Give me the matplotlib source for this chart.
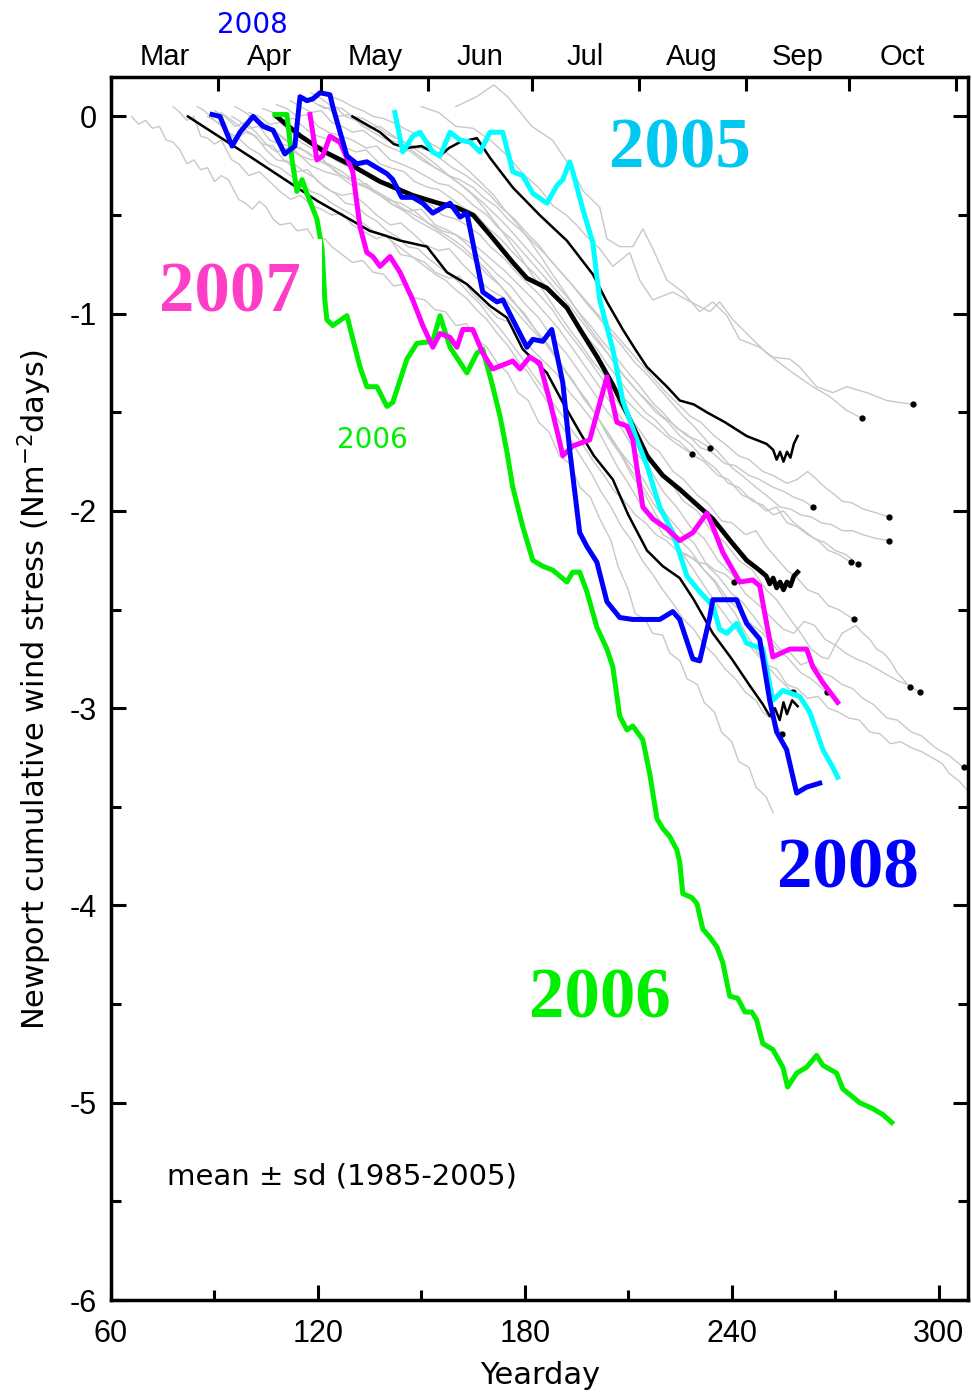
import matplotlib.pyplot as plt
from matplotlib.patches import Rectangle
from matplotlib.ticker import MultipleLocator, FixedLocator, NullFormatter

# ---- data (yearday, cumulative stress) ----
y2008_day = [89.3, 91.6, 95.1, 97.4, 101.2, 104.1, 107.0, 108.4, 110.4, 113.3, 114.8, 116.8, 118.6, 120.6,
             123.5, 124.3, 128.4, 131.3, 134.2, 137.1, 140.0, 141.7, 144.3, 147.5, 150.4, 153.3, 158.3,
             161.2, 163.2, 167.8, 171.9, 173.6, 176.5, 180.6, 182.3, 185.2, 187.8, 191.0, 193.0, 195.9,
             198.0, 200.9, 203.8, 207.5, 211.3, 219.1, 222.9, 224.9, 228.7, 230.7, 233.6, 234.5, 238.6,
             241.4, 244.3, 248.1, 251.0, 253.0, 255.9, 258.8, 261.7, 265.5]
y2008_val = [0.01, 0.00, -0.15, -0.08, 0.00, -0.05, -0.07, -0.12, -0.19, -0.15, 0.10, 0.08, 0.09, 0.12,
             0.11, 0.05, -0.20, -0.24, -0.23, -0.26, -0.29, -0.32, -0.41, -0.41, -0.44, -0.49, -0.44,
             -0.51, -0.49, -0.89, -0.94, -0.93, -1.03, -1.17, -1.13, -1.14, -1.08, -1.35, -1.69, -2.11,
             -2.18, -2.26, -2.46, -2.54, -2.55, -2.55, -2.51, -2.55, -2.75, -2.76, -2.54, -2.45, -2.45,
             -2.45, -2.57, -2.65, -2.96, -3.12, -3.21, -3.43, -3.40, -3.38]

y2005_day = [142.3, 144.6, 147.5, 149.6, 153.3, 155.4, 158.3, 161.2, 164.1, 167.0, 169.9, 173.6, 176.5,
             179.4, 182.3, 186.4, 189.3, 191.0, 193.0, 193.9, 196.8, 199.7, 201.7, 205.5, 208.4, 212.5,
             215.4, 219.1, 222.9, 227.0, 230.7, 234.5, 236.5, 238.6, 241.4, 244.3, 249.0, 251.9, 254.8,
             259.7, 262.6, 266.4, 269.3, 270.7]
y2005_val = [0.02, -0.18, -0.10, -0.08, -0.18, -0.20, -0.08, -0.12, -0.13, -0.18, -0.08, -0.08, -0.28,
             -0.30, -0.39, -0.44, -0.35, -0.32, -0.23, -0.28, -0.47, -0.64, -0.93, -1.18, -1.44, -1.64,
             -1.77, -1.98, -2.11, -2.33, -2.41, -2.48, -2.60, -2.62, -2.57, -2.67, -2.70, -2.96, -2.91,
             -2.94, -3.02, -3.21, -3.30, -3.35]

y2007_day = [117.7, 119.7, 121.4, 123.5, 126.4, 130.1, 132.2, 134.2, 135.9, 138.0, 140.9, 143.8, 147.5,
             150.4, 153.3, 155.4, 158.3, 160.3, 162.0, 164.9, 167.8, 170.7, 176.5, 178.6, 181.4, 184.3,
             187.2, 190.1, 191.0, 193.9, 198.8, 203.8, 206.7, 209.6, 211.3, 214.2, 217.1, 221.2, 224.9,
             228.7, 232.8, 234.5, 237.4, 242.3, 246.1, 248.1, 251.9, 256.8, 261.7, 263.5, 266.4, 270.7]
y2007_val = [0.01, -0.22, -0.20, -0.10, -0.13, -0.28, -0.56, -0.69, -0.71, -0.76, -0.71, -0.79, -0.93,
             -1.06, -1.17, -1.10, -1.12, -1.17, -1.08, -1.08, -1.20, -1.28, -1.24, -1.28, -1.22, -1.25,
             -1.44, -1.65, -1.72, -1.67, -1.64, -1.32, -1.55, -1.57, -1.64, -1.98, -2.04, -2.09, -2.15,
             -2.11, -2.01, -2.08, -2.21, -2.36, -2.35, -2.38, -2.74, -2.70, -2.70, -2.79, -2.87, -2.97]

y2006_day = [107.5, 111.0, 112.5, 113.9, 115.4, 116.8, 119.7, 121.2, 122.0, 122.6, 124.3, 128.4, 132.2,
             134.2, 137.1, 140.0, 141.7, 145.8, 148.7, 153.3, 155.4, 158.3, 163.2, 166.1, 167.8, 170.7,
             172.8, 174.8, 176.5, 179.4, 182.3, 185.2, 188.1, 192.2, 193.9, 195.9, 198.0, 200.9, 203.8,
             205.5, 207.5, 209.6, 211.3, 214.2, 216.2, 218.3, 220.0, 222.0, 224.1, 224.9, 225.8, 228.4,
             229.9, 231.6, 233.6, 235.7, 237.4, 239.4, 241.7, 243.8, 245.8, 247.2, 249.0, 251.9, 254.8,
             256.2, 258.8, 261.7, 264.6, 266.4, 270.4, 272.2, 277.1, 280.9, 283.8, 286.4]
y2006_val = [0.01, 0.01, -0.22, -0.38, -0.32, -0.39, -0.52, -0.67, -0.93, -1.03, -1.06, -1.01, -1.27,
             -1.37, -1.37, -1.47, -1.45, -1.23, -1.15, -1.14, -1.01, -1.17, -1.30, -1.20, -1.18, -1.37,
             -1.52, -1.70, -1.88, -2.08, -2.25, -2.28, -2.30, -2.36, -2.31, -2.31, -2.41, -2.59, -2.70,
             -2.79, -3.04, -3.11, -3.09, -3.16, -3.33, -3.56, -3.61, -3.65, -3.72, -3.78, -3.94, -3.96,
             -3.99, -4.12, -4.16, -4.21, -4.29, -4.46, -4.47, -4.54, -4.54, -4.58, -4.70, -4.73, -4.82,
             -4.92, -4.85, -4.82, -4.76, -4.81, -4.85, -4.93, -5.00, -5.03, -5.06, -5.10]

# mean and mean +/- sd, 1985-2005
mean_day = [108, 115, 122, 130, 138, 147.5, 155, 160, 165, 169.9, 176.5, 180.6, 186.4, 192.2, 196, 201,
            205.5, 210, 215.4, 220, 224.9, 230, 234.5, 240, 244.3, 248, 250, 251, 252, 253, 254, 255,
            256, 257, 258, 259.1]
mean_val = [0.0, -0.10, -0.18, -0.25, -0.33, -0.40, -0.44, -0.46, -0.50, -0.60, -0.74, -0.82, -0.87,
            -0.97, -1.08, -1.22, -1.36, -1.52, -1.72, -1.82, -1.89, -1.97, -2.04, -2.16, -2.25, -2.30,
            -2.33, -2.37, -2.34, -2.39, -2.36, -2.40, -2.36, -2.38, -2.33, -2.31]
lo_day = [82.3, 100, 120, 130.1, 135, 138.8, 144, 151.6, 157.4, 163.2, 169.9, 174.8, 179.4, 186.4, 191,
          195.9, 200, 205.5, 210, 215.4, 220, 224.9, 229, 234.5, 240, 245, 249, 251, 252.5, 253.9, 255,
          256, 257.5, 259.1]
lo_val = [0.0, -0.20, -0.43, -0.53, -0.58, -0.60, -0.63, -0.66, -0.79, -0.85, -0.96, -1.02, -1.18, -1.30,
          -1.45, -1.60, -1.72, -1.84, -2.02, -2.20, -2.28, -2.34, -2.45, -2.62, -2.75, -2.88, -2.98, -3.04,
          -3.00, -3.06, -2.97, -3.03, -2.96, -2.99]
hi_day = [130, 134, 138, 142, 145.8, 150, 155.4, 158, 161.2, 166.1, 169.9, 176.5, 184.3, 192.2, 199.7,
          203.8, 208.4, 212, 215.4, 221.2, 224.9, 229, 232.8, 238, 244.3, 250.1, 252, 253, 254, 255,
          256, 257, 258, 259.1]
hi_val = [0.0, -0.04, -0.08, -0.14, -0.16, -0.15, -0.20, -0.16, -0.13, -0.11, -0.21, -0.36, -0.50, -0.63,
          -0.80, -0.94, -1.08, -1.18, -1.27, -1.37, -1.44, -1.46, -1.50, -1.55, -1.62, -1.66, -1.69, -1.74,
          -1.70, -1.75, -1.70, -1.73, -1.66, -1.62]

# individual years 1985-2004 (grey)
gray_runs = [
    [(66, 0.0), (68, -0.04), (70, -0.02), (72, -0.06), (74, -0.05), (76, -0.12), (78, -0.13), (80, -0.17),
     (82, -0.24), (84, -0.22), (86, -0.27), (88, -0.26), (90, -0.33), (92, -0.30), (94, -0.32), (97, -0.42),
     (99, -0.44), (101, -0.47), (103, -0.43), (105, -0.46), (107, -0.52), (109, -0.55), (112, -0.54),
     (114, -0.58), (117, -0.57), (119, -0.63), (122, -0.62), (124, -0.66), (127, -0.70), (130, -0.74),
     (133, -0.73), (136, -0.79), (139, -0.80), (142, -0.86), (145, -0.85), (148, -0.92), (151, -0.93),
     (154, -0.98), (157, -0.99), (160, -1.06), (163, -1.05), (166, -1.13), (169, -1.17), (172, -1.25),
     (175, -1.30), (178, -1.40), (181, -1.44), (184, -1.55), (187, -1.60), (190, -1.72), (193, -1.76),
     (196, -1.88), (199, -1.93), (202, -2.05), (205, -2.15), (207, -2.28), (210, -2.40), (212, -2.52),
     (215, -2.55), (217, -2.62), (220, -2.63), (222, -2.72), (225, -2.76), (227, -2.85), (230, -2.88),
     (232, -2.97), (235, -3.02), (237, -3.12), (240, -3.17), (242, -3.27), (245, -3.30), (247, -3.40),
     (250, -3.45), (252, -3.53)],
    [(78, 0.05), (80, 0.02), (82, -0.02), (84, 0.0), (86, -0.10), (88, -0.11), (90, -0.14), (92, -0.12),
     (95, -0.22), (97, -0.24), (100, -0.30), (103, -0.28), (106, -0.33), (109, -0.38), (112, -0.42),
     (115, -0.40), (118, -0.45), (121, -0.47), (124, -0.50), (127, -0.49), (130, -0.55), (133, -0.58),
     (137, -0.62), (140, -0.60), (144, -0.70), (147, -0.71), (151, -0.74), (154, -0.79), (158, -0.82),
     (161, -0.81), (165, -0.90), (168, -0.95), (172, -1.02), (175, -1.04), (179, -1.12), (182, -1.18),
     (186, -1.25), (189, -1.30), (193, -1.40), (196, -1.46), (200, -1.55), (203, -1.65), (207, -1.78),
     (210, -1.86), (214, -1.98), (217, -2.02), (220, -2.12), (223, -2.15), (226, -2.22), (229, -2.24),
     (232, -2.30), (235, -2.36), (238, -2.45), (241, -2.52), (244, -2.62), (247, -2.70), (250, -2.78),
     (253, -2.80), (256, -2.88), (259, -2.90), (262, -2.95), (265, -2.94), (268, -3.00), (271, -3.02),
     (274, -3.05), (277, -3.06), (280, -3.12), (283, -3.13), (286, -3.18), (289, -3.17), (292, -3.20),
     (295, -3.22), (298, -3.25), (301, -3.28), (303, -3.33), (306, -3.37), (309, -3.43)],
    [(85, 0.05), (87, 0.03), (90, -0.02), (93, -0.06), (96, -0.12), (99, -0.08), (102, -0.10), (105, -0.17),
     (108, -0.22), (111, -0.23), (114, -0.28), (117, -0.27), (120, -0.33), (124, -0.38), (127, -0.40),
     (130, -0.39), (134, -0.45), (137, -0.50), (141, -0.55), (144, -0.54), (148, -0.60), (151, -0.65),
     (155, -0.68), (158, -0.67), (162, -0.75), (166, -0.82), (170, -0.88), (174, -0.92), (178, -1.00),
     (182, -1.08), (186, -1.15), (190, -1.24), (194, -1.35), (198, -1.44), (202, -1.55), (206, -1.66),
     (210, -1.75), (214, -1.83), (218, -1.95), (222, -2.04), (226, -2.12), (229, -2.16), (233, -2.28),
     (236, -2.33), (240, -2.42), (243, -2.46), (247, -2.55), (250, -2.62), (254, -2.70), (257, -2.72),
     (260, -2.78), (263, -2.76), (266, -2.82), (269, -2.84), (272, -2.88), (275, -2.90), (278, -2.95),
     (281, -2.98), (285, -3.05), (288, -3.06), (292, -3.12), (295, -3.14), (299, -3.20), (303, -3.24),
     (307.2, -3.30)],
    [(90, 0.03), (93, 0.0), (96, -0.05), (99, -0.03), (102, -0.08), (105, -0.14), (108, -0.18), (111, -0.16),
     (115, -0.20), (118, -0.25), (122, -0.28), (126, -0.30), (130, -0.35), (134, -0.34), (138, -0.40),
     (142, -0.45), (146, -0.48), (150, -0.47), (154, -0.55), (158, -0.58), (162, -0.62), (166, -0.66),
     (170, -0.72), (174, -0.78), (178, -0.85), (182, -0.92), (186, -1.00), (190, -1.08), (194, -1.18),
     (198, -1.28), (202, -1.38), (206, -1.48), (210, -1.58), (214, -1.65), (218, -1.78), (222, -1.85),
     (226, -1.95), (230, -2.00), (234, -2.10), (238, -2.16), (242, -2.25), (246, -2.30), (250, -2.40),
     (253, -2.45), (257, -2.55), (260, -2.62), (263, -2.70), (266, -2.74), (268, -2.75), (270, -2.68),
     (272, -2.62), (274, -2.60), (276, -2.58), (278, -2.62), (280, -2.65), (282, -2.70), (284, -2.72),
     (286, -2.76), (288, -2.82), (291.6, -2.89)],
    [(95, 0.0), (97, -0.02), (100, -0.06), (103, -0.05), (106, -0.12), (109, -0.14), (112, -0.15),
     (115, -0.20), (118, -0.22), (121, -0.21), (125, -0.28), (128, -0.31), (132, -0.32), (136, -0.38),
     (140, -0.42), (144, -0.44), (148, -0.48), (152, -0.54), (156, -0.58), (160, -0.60), (164, -0.66),
     (168, -0.73), (172, -0.80), (176, -0.86), (180, -0.95), (184, -1.02), (188, -1.12), (192, -1.20),
     (196, -1.30), (200, -1.40), (204, -1.50), (208, -1.58), (212, -1.70), (216, -1.78), (220, -1.90),
     (224, -1.98), (228, -2.08), (232, -2.14), (236, -2.25), (240, -2.32), (244, -2.42), (248, -2.48),
     (252, -2.55), (255, -2.60), (258, -2.62), (261, -2.56), (264, -2.58), (267, -2.65), (270, -2.68),
     (273, -2.72), (276, -2.75), (279, -2.77), (282, -2.80), (285, -2.83), (288, -2.86), (291, -2.88),
     (294.5, -2.92)],
    [(100, 0.02), (103, 0.0), (106, -0.04), (109, -0.03), (112, -0.08), (115, -0.13), (118, -0.16),
     (121, -0.15), (125, -0.22), (128, -0.25), (132, -0.26), (135, -0.31), (139, -0.34), (142, -0.33),
     (146, -0.40), (149, -0.42), (153, -0.45), (156, -0.50), (160, -0.52), (163, -0.55), (167, -0.60),
     (170, -0.66), (174, -0.72), (177, -0.78), (181, -0.85), (184, -0.90), (188, -0.98), (191, -1.06),
     (195, -1.15), (198, -1.22), (202, -1.32), (205, -1.40), (209, -1.50), (212, -1.56), (216, -1.66),
     (219, -1.70), (223, -1.80), (226, -1.84), (230, -1.92), (233, -1.96), (237, -2.05), (240, -2.06),
     (244, -2.12), (247, -2.10), (250, -2.18), (253, -2.24), (256, -2.30), (259, -2.34), (262, -2.40),
     (265, -2.42), (268, -2.48), (271, -2.50), (275.4, -2.55)],
    [(104, 0.04), (107, 0.02), (110, -0.02), (113, -0.01), (117, -0.07), (120, -0.10), (124, -0.12),
     (127, -0.15), (131, -0.18), (134, -0.17), (138, -0.24), (141, -0.26), (145, -0.28), (148, -0.33),
     (152, -0.36), (155, -0.37), (159, -0.42), (162, -0.46), (166, -0.50), (169, -0.56), (173, -0.62),
     (176, -0.68), (180, -0.75), (183, -0.80), (187, -0.88), (190, -0.94), (194, -1.02), (197, -1.10),
     (201, -1.18), (204, -1.26), (208, -1.35), (211, -1.42), (215, -1.50), (218, -1.54), (222, -1.62),
     (225, -1.65), (229, -1.72), (232, -1.75), (236, -1.82), (239, -1.84), (243, -1.92), (246, -1.94),
     (250, -2.00), (253, -1.98), (256, -2.06), (259, -2.08), (262, -2.12), (265, -2.15), (268, -2.20),
     (271, -2.22), (274.5, -2.26)],
    [(108, 0.06), (111, 0.04), (114, 0.0), (117, 0.01), (120, -0.05), (123, -0.08), (127, -0.10),
     (130, -0.12), (134, -0.16), (137, -0.15), (141, -0.22), (144, -0.24), (148, -0.27), (151, -0.30),
     (155, -0.34), (158, -0.35), (162, -0.40), (165, -0.45), (169, -0.50), (172, -0.56), (176, -0.62),
     (179, -0.68), (183, -0.76), (186, -0.82), (190, -0.90), (193, -0.96), (197, -1.05), (200, -1.12),
     (204, -1.20), (207, -1.28), (211, -1.36), (214, -1.42), (218, -1.50), (221, -1.54), (225, -1.62),
     (228, -1.66), (232, -1.74), (235, -1.78), (239, -1.86), (242, -1.88), (246, -1.95), (249, -1.97),
     (252, -2.02), (255, -2.00), (258, -2.06), (261, -2.10), (264, -2.14), (267, -2.16), (270, -2.20),
     (273, -2.22), (276.5, -2.27)],
    [(112, 0.08), (115, 0.05), (118, 0.02), (121, 0.03), (124, -0.03), (127, -0.05), (130, -0.08),
     (133, -0.07), (137, -0.12), (140, -0.15), (144, -0.18), (147, -0.17), (151, -0.22), (154, -0.26),
     (158, -0.30), (161, -0.32), (165, -0.36), (168, -0.41), (172, -0.46), (175, -0.52), (179, -0.58),
     (182, -0.63), (186, -0.70), (189, -0.76), (193, -0.84), (196, -0.90), (200, -0.98), (203, -1.04),
     (207, -1.12), (210, -1.18), (214, -1.26), (217, -1.32), (221, -1.40), (224, -1.45), (228, -1.52),
     (231, -1.55), (235, -1.62), (238, -1.66), (242, -1.72), (245, -1.74), (249, -1.80), (252, -1.82),
     (256, -1.86), (259, -1.84), (262, -1.80), (264, -1.83), (267, -1.88), (270, -1.92), (272, -1.95),
     (275, -1.96), (278, -1.99), (282, -2.01), (285.5, -2.03)],
    [(116, 0.10), (119, 0.07), (122, 0.04), (125, 0.05), (128, 0.0), (131, -0.02), (135, -0.06),
     (138, -0.05), (142, -0.10), (145, -0.13), (149, -0.16), (152, -0.17), (156, -0.22), (159, -0.26),
     (163, -0.30), (166, -0.34), (170, -0.40), (173, -0.46), (177, -0.52), (180, -0.58), (184, -0.65),
     (187, -0.72), (191, -0.80), (194, -0.86), (198, -0.95), (201, -1.01), (205, -1.10), (208, -1.16),
     (212, -1.25), (215, -1.30), (219, -1.38), (222, -1.44), (226, -1.52), (229, -1.57), (233, -1.65),
     (236, -1.70), (240, -1.78), (243, -1.82), (247, -1.88), (250, -1.92), (254, -1.98), (257, -1.99),
     (260, -2.02), (263, -2.03), (266, -2.06), (269, -2.07), (272, -2.10), (275, -2.10), (278, -2.12),
     (282, -2.14), (285.5, -2.15)],
    [(120, 0.06), (123, 0.04), (126, 0.0), (129, 0.01), (133, -0.05), (136, -0.08), (140, -0.12),
     (143, -0.13), (147, -0.18), (150, -0.22), (154, -0.26), (157, -0.29), (161, -0.34), (164, -0.38),
     (168, -0.44), (171, -0.49), (175, -0.56), (178, -0.62), (182, -0.70), (185, -0.76), (189, -0.85),
     (192, -0.91), (196, -1.00), (199, -1.06), (203, -1.15), (206, -1.21), (210, -1.30), (213, -1.36),
     (217, -1.45), (220, -1.50), (224, -1.58), (227, -1.61), (231, -1.68), (234, -1.70), (238, -1.76),
     (241, -1.77), (245, -1.82), (248, -1.84), (252, -1.88), (255, -1.90), (258, -1.93), (261, -1.95),
     (263.5, -1.98)],
    [(92, 0.02), (95, -0.02), (98, -0.06), (101, -0.09), (104, -0.14), (107, -0.15), (110, -0.22),
     (113, -0.24), (116, -0.28), (119, -0.31), (122, -0.36), (125, -0.39), (128, -0.44), (131, -0.45),
     (134, -0.50), (137, -0.53), (140, -0.58), (143, -0.61), (146, -0.66), (149, -0.67), (152, -0.72),
     (155, -0.76), (158, -0.80), (161, -0.84), (164, -0.90), (167, -0.95), (170, -1.02), (173, -1.08),
     (176, -1.15), (179, -1.22), (182, -1.30), (185, -1.37), (188, -1.45), (191, -1.52), (194, -1.60),
     (197, -1.67), (200, -1.75), (203, -1.82), (206, -1.90), (209, -1.95), (212, -2.02), (215, -2.06),
     (218, -2.12), (221, -2.15), (224, -2.20), (227, -2.22), (230, -2.26), (233, -2.27), (235, -2.30),
     (238, -2.32), (240.6, -2.36)],
    [(88, 0.0), (91, -0.03), (94, -0.08), (97, -0.11), (100, -0.16), (103, -0.19), (106, -0.24),
     (109, -0.26), (112, -0.30), (115, -0.34), (118, -0.38), (121, -0.40), (124, -0.44), (127, -0.47),
     (130, -0.50), (133, -0.54), (136, -0.58), (139, -0.60), (142, -0.64), (145, -0.68), (148, -0.72),
     (151, -0.76), (154, -0.80), (157, -0.83), (160, -0.88), (163, -0.92), (166, -0.98), (169, -1.03),
     (172, -1.10), (175, -1.16), (178, -1.24), (181, -1.30), (184, -1.38), (187, -1.46), (190, -1.55),
     (193, -1.63), (196, -1.72), (199, -1.80), (202, -1.90), (205, -1.98), (208, -2.08), (211, -2.15),
     (214, -2.25), (217, -2.32), (220, -2.40), (223, -2.47), (226, -2.55), (229, -2.60), (232, -2.68),
     (235, -2.73), (238, -2.80), (241, -2.85), (244, -2.92), (247, -2.96), (249, -3.02), (252, -3.06),
     (254.5, -3.13)],
    [(96, 0.05), (99, 0.02), (102, -0.02), (105, -0.04), (108, -0.08), (111, -0.12), (114, -0.16),
     (117, -0.18), (120, -0.22), (123, -0.24), (127, -0.28), (130, -0.32), (134, -0.36), (137, -0.38),
     (141, -0.42), (144, -0.46), (148, -0.50), (151, -0.53), (155, -0.58), (158, -0.61), (162, -0.66),
     (165, -0.71), (169, -0.78), (172, -0.84), (176, -0.92), (179, -0.99), (183, -1.08), (186, -1.15),
     (190, -1.25), (193, -1.32), (197, -1.42), (200, -1.50), (204, -1.60), (207, -1.68), (211, -1.80),
     (214, -1.87), (218, -1.98), (221, -2.05), (225, -2.15), (228, -2.20), (232, -2.30), (235, -2.35),
     (239, -2.45), (242, -2.50), (246, -2.58), (249, -2.62), (253, -2.70), (256, -2.74), (260, -2.82),
     (263, -2.85), (267.5, -2.92)],
    [(118, 0.12), (121, 0.09), (124, 0.05), (127, 0.04), (130, 0.0), (133, -0.01), (137, -0.05),
     (140, -0.09), (144, -0.12), (147, -0.15), (151, -0.20), (154, -0.24), (158, -0.30), (161, -0.34),
     (165, -0.40), (168, -0.46), (172, -0.55), (175, -0.62), (179, -0.72), (182, -0.80), (186, -0.90),
     (189, -0.98), (193, -1.08), (196, -1.15), (200, -1.25), (203, -1.31), (207, -1.40), (210, -1.45),
     (214, -1.52), (217, -1.56), (221, -1.62), (224, -1.66), (228.4, -1.71)],
    [(124, 0.10), (127, 0.08), (130, 0.05), (133, 0.03), (136, 0.0), (139, -0.01), (143, -0.04),
     (146, -0.07), (150, -0.10), (153, -0.14), (157, -0.18), (160, -0.22), (164, -0.28), (167, -0.33),
     (171, -0.40), (174, -0.47), (178, -0.55), (181, -0.62), (185, -0.72), (188, -0.80), (192, -0.90),
     (195, -0.98), (199, -1.08), (202, -1.15), (206, -1.25), (209, -1.32), (213, -1.40), (216, -1.45),
     (220, -1.52), (223, -1.56), (227, -1.62), (230, -1.64), (233.6, -1.68)],
    [(100, 0.0), (103, -0.02), (106, -0.06), (109, -0.10), (112, -0.14), (115, -0.16), (118, -0.20),
     (121, -0.23), (124, -0.26), (127, -0.30), (131, -0.34), (134, -0.36), (138, -0.40), (141, -0.44),
     (145, -0.48), (148, -0.52), (152, -0.56), (155, -0.59), (159, -0.64), (162, -0.68), (166, -0.74),
     (169, -0.80), (173, -0.86), (176, -0.93), (180, -1.00), (183, -1.08), (187, -1.16), (190, -1.25),
     (194, -1.34), (197, -1.43), (201, -1.52), (204, -1.62), (208, -1.72), (211, -1.82), (215, -1.92),
     (218, -2.02), (222, -2.12), (225, -2.20), (229, -2.30), (232, -2.38), (236, -2.48), (239, -2.55),
     (243, -2.64), (246, -2.70), (250, -2.78), (253, -2.84), (257.7, -2.92)],
    [(150, 0.05), (155, 0.02), (160, -0.05), (165, -0.06), (170, -0.12), (175, -0.20), (180, -0.30),
     (184, -0.36), (188, -0.45), (192, -0.50), (195, -0.55), (198, -0.61), (201.7, -0.67), (205.5, -0.76),
     (210.4, -0.69), (213.3, -0.83), (217.1, -0.93), (222.9, -0.89), (227, -0.93), (233.6, -0.99),
     (236.5, -0.94), (240.3, -1.03), (244.3, -1.10), (250.1, -1.20), (257.7, -1.30), (263.5, -1.37),
     (268.4, -1.42), (273.3, -1.49), (277.7, -1.53)],
    [(160, 0.05), (166, 0.10), (171, 0.16), (175, 0.10), (182, -0.05), (188, -0.12), (193, -0.25),
     (197, -0.38), (201.7, -0.46), (203.8, -0.62), (207.5, -0.66), (211.3, -0.66), (214.2, -0.57),
     (217.1, -0.67), (221.2, -0.83), (225.8, -0.89), (230.7, -0.99), (234.5, -0.94), (238.6, -1.01),
     (242.3, -1.13), (248.1, -1.17), (251.9, -1.22), (256.8, -1.23), (259.7, -1.27), (264.6, -1.37),
     (269.3, -1.40), (273.3, -1.37), (279.1, -1.40), (284.9, -1.44), (292.5, -1.46)],
]

# end-of-season dots
dot_day = [292.5, 277.7, 233.6, 228.4, 263.5, 285.5, 285.5, 274.5, 276.5, 240.6, 275.4, 291.6, 294.5,
           257.7, 267.5, 307.2, 254.5]
dot_val = [-1.46, -1.53, -1.68, -1.71, -1.98, -2.03, -2.15, -2.26, -2.27, -2.36, -2.55, -2.89, -2.92,
           -2.92, -2.92, -3.30, -3.13]

month_names = ["Mar", "Apr", "May", "Jun", "Jul", "Aug", "Sep", "Oct"]
month_start = [60, 91, 121, 152, 182, 213, 244, 274, 305]

sans = ["Liberation Sans", "DejaVu Sans"]
wide = ["DejaVu Sans"]
serif = ["Liberation Serif", "DejaVu Serif"]
plt.rcParams["font.family"] = sans

fig = plt.figure(figsize=(9.72, 13.95), dpi=100)
ax = fig.add_axes([0.1142, 0.0681, 0.8817, 0.8767])

for run in gray_runs:
    ax.plot([p[0] for p in run], [p[1] for p in run], color="#c8c8c8", lw=1.0, zorder=1)
ax.plot(dot_day, dot_val, "o", color="black", ms=3.5, zorder=2)

ax.plot(lo_day, lo_val, color="black", lw=1.8, zorder=3)
ax.plot(hi_day, hi_val, color="black", lw=1.8, zorder=3)
ax.plot(mean_day, mean_val, color="black", lw=3.4, zorder=3)

ax.plot(y2006_day, y2006_val, color="#00ee00", lw=3.6, zorder=4)
ax.plot(y2005_day, y2005_val, color="#00ffff", lw=3.6, zorder=4)
ax.plot(y2007_day, y2007_val, color="#ff00ff", lw=3.6, zorder=4)
ax.plot(y2008_day, y2008_val, color="#0000ff", lw=3.6, zorder=4)

# white box behind the 2007 label
ax.add_patch(Rectangle((64.5, -1.3), 121.2 - 64.5, 0.68, facecolor="white", edgecolor="none", zorder=5))

big = dict(family=serif, fontweight="bold", fontsize=51, ha="center", va="center", zorder=6)
ax.text(224.9, -0.17, "2005", color="#00c8f0", **big)
ax.text(94.5, -0.90, "2007", color="#ff3ec8", **big)
ax.text(273.6, -3.82, "2008", color="#0000ff", **big)
ax.text(201.7, -4.48, "2006", color="#00ee00", **big)
ax.text(135.7, -1.64, "2006", color="#00ee00", fontsize=20, family=wide, ha="center", va="center", zorder=6)
ax.text(76.2, -5.375, "mean \u00b1 sd (1985-2005)", fontsize=21, family=wide, ha="left", va="center")

ax.set_xlim(60, 308.5)
ax.set_ylim(-6, 0.2)
ax.xaxis.set_major_locator(MultipleLocator(60))
ax.xaxis.set_minor_locator(MultipleLocator(30))
ax.yaxis.set_major_locator(MultipleLocator(1))
ax.yaxis.set_minor_locator(MultipleLocator(0.5))
ax.yaxis.set_major_formatter(plt.FuncFormatter(lambda v, p: "%d" % v))
ax.tick_params(which="both", direction="in", top=False, right=True, width=2.2, labelsize=22)
ax.tick_params(which="major", length=11, pad=14)
ax.tick_params(which="minor", length=7)
ax.tick_params(axis="y", pad=10)
for s in ax.spines.values():
    s.set_linewidth(2.5)

# month axis on top
ax2 = ax.twiny()
ax2.set_xlim(ax.get_xlim())
ax2.xaxis.set_major_locator(FixedLocator(month_start))
ax2.xaxis.set_major_formatter(NullFormatter())
mids = [(a + b) / 2 for a, b in zip(month_start[:-1], month_start[1:])]
ax2.xaxis.set_minor_locator(FixedLocator(mids))
ax2.set_xticklabels(month_names, minor=True)
ax2.tick_params(which="major", direction="in", length=10, width=2.2)
ax2.tick_params(which="minor", length=0, labelsize=21, pad=4)
for s in ax2.spines.values():
    s.set_visible(False)

fig.text(252 / 972, 1 - 25 / 1395, "2008", color="#0000ff", fontsize=20, family=wide, ha="center", va="center")
fig.text(540 / 972, 1 - 1375 / 1395, "Yearday", fontsize=22, family=wide, ha="center", va="center")
fig.text(35 / 972, 1 - 690 / 1395, "Newport cumulative wind stress (Nm$^{-2}$days)", fontsize=22,
         family=wide, rotation=90, ha="center", va="center")

fig.savefig("out.png", dpi=100)
